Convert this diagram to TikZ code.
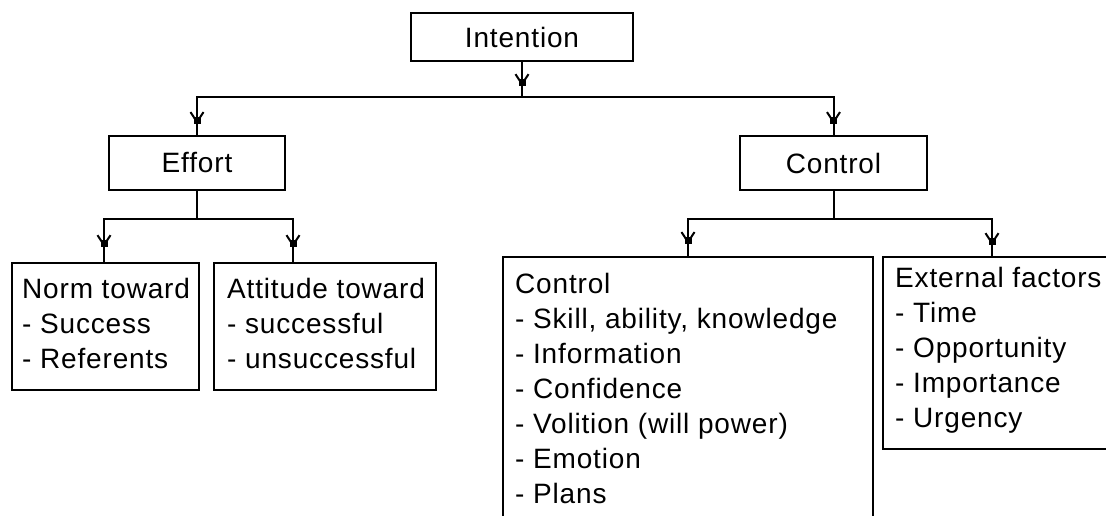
\documentclass[tikz,border=0pt]{standalone}
\usepackage{fontspec}
\setmainfont{Liberation Sans}[LetterSpace=3]
\usetikzlibrary{arrows.meta,decorations.markings}

\tikzset{
  every node/.style={font=\fontsize{28pt}{35pt}\selectfont},
  box/.style={draw, line width=2.2pt, inner sep=0pt, anchor=center},
  txt/.style={inner sep=0pt, anchor=base west},
  wire/.style={line width=2pt},
  flowmark/.style={wire, postaction={decorate},
    decoration={markings, mark=at position -#1 with {
      \arrow{Straight Barb[length=10pt,width=13pt,line width=2pt]}
      \arrow{Square[length=7pt,width=7pt]}}}},
  flowmark/.default=11pt
}

\begin{document}
\begin{tikzpicture}[x=1pt,y=-1pt]
  \clip (0,0) rectangle (1106,516);
  \fill[white] (0,0) rectangle (1106,516);

  % top level
  \node[box, minimum width=222pt, minimum height=48pt] (int) at (522,37) {Intention};

  % second level
  \node[box, minimum width=176pt, minimum height=54pt] (eff) at (197,163) {Effort};
  \node[box, minimum width=187pt, minimum height=54pt] (ctl) at (833.5,163) {Control};

  % third level boxes
  \node[box, minimum width=187pt, minimum height=127pt] (norm) at (105.5,326.5) {};
  \node[box, minimum width=222pt, minimum height=127pt] (att) at (325,326.5) {};
  \node[box, minimum width=370pt, minimum height=283pt] (cl) at (688,398.5) {};
  \node[box, minimum width=237pt, minimum height=192pt] (ext) at (1001.5,353) {};

  % box contents
  \foreach [count=\i from 0] \t in {Norm toward, - Success, - Referents}
    \node[txt] (norm-\i) at (22,298+35*\i) {\t};
  \foreach [count=\i from 0] \t in {Attitude toward, - successful, - unsuccessful}
    \node[txt] (att-\i) at (227,298+35*\i) {\t};
  \foreach [count=\i from 0] \t in {Control, {- Skill, ability, knowledge}, - Information,
      - Confidence, - Volition (will power), - Emotion, - Plans}
    \node[txt] (cl-\i) at (515,293+35*\i) {\t};
  \foreach [count=\i from 0] \t in {External factors, - Time, - Opportunity,
      - Importance, - Urgency}
    \node[txt] (ext-\i) at (895,287+35*\i) {\t};

  % junction points and entry points
  \coordinate (busA) at (int.south |- 0,97);
  \coordinate (busB) at (eff.south |- 0,219);
  \coordinate (busC) at (ctl.south |- 0,219);
  \coordinate (normin) at (104,263);
  \coordinate (attin) at (293,263);
  \coordinate (extin) at (992,257);

  % connectors
  \draw[flowmark] (int.south) -- (busA);
  \draw[flowmark] (busA) -| (eff.north);
  \draw[flowmark] (busA) -| (ctl.north);

  \draw[wire] (eff.south) -- (busB);
  \draw[flowmark=16pt] (busB) -| (normin);
  \draw[flowmark=16pt] (busB) -| (attin);

  \draw[wire] (ctl.south) -- (busC);
  \draw[flowmark=12pt] (busC) -| (cl.north);
  \draw[flowmark=12pt] (busC) -| (extin);
\end{tikzpicture}
\end{document}
